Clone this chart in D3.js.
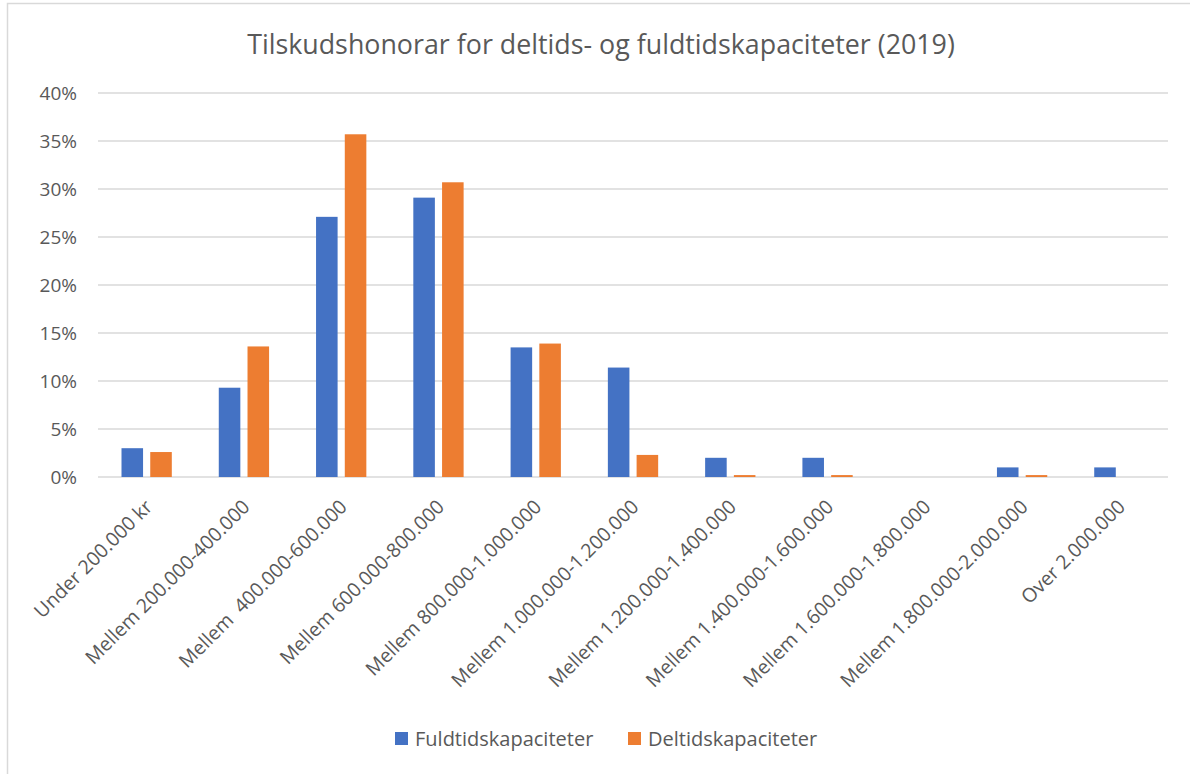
<!DOCTYPE html>
<html>
<head>
<meta charset="utf-8">
<script src="https://cdn.jsdelivr.net/npm/d3@7"></script>
<style>
  html, body { margin: 0; padding: 0; background: #fff; }
  svg { display: block; }
  text { font-family: "Open Sans", sans-serif; fill: #595959; white-space: pre; }
</style>
</head>
<body>
<svg id="chart" width="1190" height="774"></svg>
<script>
const title = "Tilskudshonorar for deltids- og fuldtidskapaciteter (2019)";
const categories = [
  "Under 200.000 kr",
  "Mellem 200.000-400.000",
  "Mellem  400.000-600.000",
  "Mellem 600.000-800.000",
  "Mellem 800.000-1.000.000",
  "Mellem 1.000.000-1.200.000",
  "Mellem 1.200.000-1.400.000",
  "Mellem 1.400.000-1.600.000",
  "Mellem 1.600.000-1.800.000",
  "Mellem 1.800.000-2.000.000",
  "Over 2.000.000"
];
const seriesNames = ["Fuldtidskapaciteter", "Deltidskapaciteter"];
const fuldtid = [0.030, 0.093, 0.271, 0.291, 0.135, 0.114, 0.020, 0.020, 0.000, 0.010, 0.010];
const deltid  = [0.026, 0.136, 0.357, 0.307, 0.139, 0.023, 0.002, 0.002, 0.000, 0.002, 0.000];
const yTicks = [0, 0.05, 0.10, 0.15, 0.20, 0.25, 0.30, 0.35, 0.40];
const colors = ["#4472C4", "#ED7D31"];

const svg = d3.select("#chart");

// outer chart border
svg.append("rect")
  .attr("x", 7.5).attr("y", 3.5)
  .attr("width", 1200).attr("height", 800)
  .attr("fill", "none").attr("stroke", "#D9D9D9").attr("stroke-width", 1.5);

const x0 = d3.scaleBand().domain(categories).range([98, 1168]).padding(0);
const x1 = d3.scaleBand().domain(seriesNames).range([23.5, 73.8]).paddingInner(0.25);
const y = d3.scaleLinear().domain([0, 0.4]).range([477, 93]);

// title
svg.append("text")
  .attr("x", 601).attr("y", 54)
  .attr("text-anchor", "middle")
  .style("font-size", "26.8px")
  .text(title);

// gridlines
svg.append("g").selectAll("line")
  .data(yTicks).join("line")
  .attr("x1", 98).attr("x2", 1168)
  .attr("y1", d => y(d)).attr("y2", d => y(d))
  .attr("stroke", "#D9D9D9").attr("stroke-width", 1.5);

// y axis labels
const yAxis = d3.axisLeft(y).tickValues(yTicks).tickFormat(d3.format(".0%")).tickSize(0).tickPadding(0);
const yg = svg.append("g").attr("transform", "translate(77,0)").call(yAxis);
yg.select(".domain").remove();
yg.selectAll("text").style("font-size", "19px").attr("fill", "#595959").attr("font-family", "Open Sans");

// bars
const groups = svg.append("g").selectAll("g")
  .data(categories).join("g")
  .attr("transform", d => `translate(${x0(d)},0)`);
groups.selectAll("rect")
  .data((d, i) => [fuldtid[i], deltid[i]].map((v, j) => ({ key: seriesNames[j], value: v, color: colors[j] })))
  .join("rect")
  .attr("x", d => x1(d.key))
  .attr("width", x1.bandwidth())
  .attr("y", d => y(d.value))
  .attr("height", d => y(0) - y(d.value))
  .attr("fill", d => d.color);

// x axis labels
const xAxis = d3.axisBottom(x0).tickSize(0).tickPadding(0);
const xg = svg.append("g").attr("transform", "translate(0,477)").call(xAxis);
xg.select(".domain").remove();
xg.selectAll("text")
  .attr("font-family", "Open Sans")
  .style("font-size", "19.5px")
  .style("white-space", "pre")
  .attr("fill", "#595959")
  .attr("text-anchor", "end")
  .attr("dy", "0")
  .attr("y", 0)
  .attr("transform", "translate(7,31) rotate(-45)");

// legend
const legend = svg.append("g");
const legendX = [395, 628];
seriesNames.forEach((s, i) => {
  legend.append("rect")
    .attr("x", legendX[i]).attr("y", 732)
    .attr("width", 13).attr("height", 13)
    .attr("fill", colors[i]);
  legend.append("text")
    .attr("x", legendX[i] + 20).attr("y", 746)
    .style("font-size", "20px")
    .text(s);
});
</script>
</body>
</html>
